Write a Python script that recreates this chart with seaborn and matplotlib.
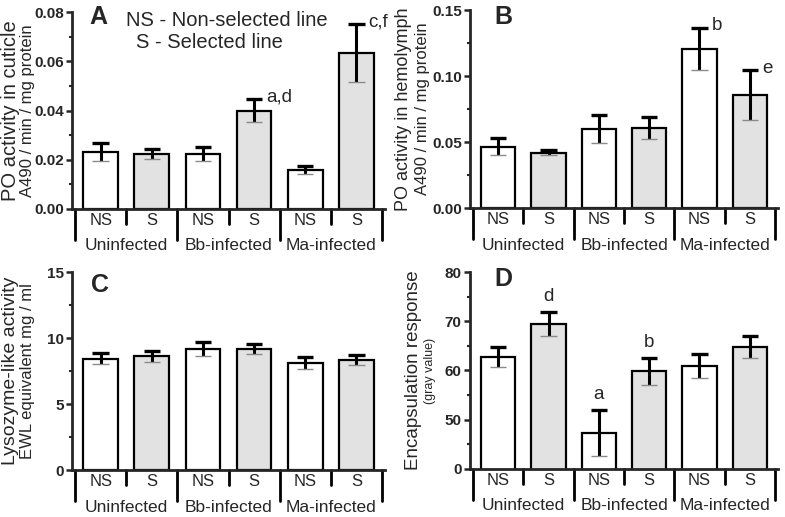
import numpy as np
import pandas as pd
import seaborn as sns
import matplotlib.pyplot as plt
from matplotlib.ticker import AutoMinorLocator, FixedLocator
from matplotlib.transforms import blended_transform_factory

# data, order: Uninf NS, Uninf S, Bb NS, Bb S, Ma NS, Ma S
groups = ["Uninfected", "Bb-infected", "Ma-infected"]
lines = ["NS", "S"]

po_cuticle = [0.0232, 0.0224, 0.0223, 0.0400, 0.0158, 0.0632]
po_cuticle_se = [0.0038, 0.0021, 0.0027, 0.0048, 0.0017, 0.0118]

po_hemo = [0.0465, 0.0420, 0.0598, 0.0606, 0.1204, 0.0854]
po_hemo_se = [0.0064, 0.0018, 0.0104, 0.0080, 0.0161, 0.0189]

lysozyme = [8.43, 8.61, 9.17, 9.19, 8.08, 8.33]
lysozyme_se = [0.42, 0.43, 0.54, 0.38, 0.45, 0.36]

encaps = [62.8, 69.5, 47.3, 59.8, 60.9, 64.7]
encaps_se = [2.0, 2.45, 4.75, 2.65, 2.5, 2.25]

letters_a = {3: "a,d", 5: "c,f"}
letters_b = {4: "b", 5: "e"}
letters_d = {1: "d", 2: "a", 3: "b"}

sns.set_style("ticks")
plt.rcParams['font.family'] = ['Liberation Sans', 'DejaVu Sans']

W, H = 785, 517
fig = plt.figure(figsize=(W / 100, H / 100), dpi=100)


def px_axes(x0, y0, x1, y1):
    return fig.add_axes([x0 / W, 1 - y1 / H, (x1 - x0) / W, (y1 - y0) / H])


def panel(ax, vals, se, ylim, yticks, ylabels, letter, lab1, lab2, fs1, fs2, lab_x):
    df = pd.DataFrame({
        "cond": [f"{g} {l}" for g in groups for l in lines],
        "line": [l for g in groups for l in lines],
        "value": vals,
    })
    sns.barplot(data=df, x="cond", y="value", hue="line",
                palette={"NS": "white", "S": "#e2e2e2"}, dodge=False,
                width=0.68, edgecolor="black", linewidth=1.6,
                errorbar=None, legend=False, ax=ax)
    xs = np.arange(len(vals))
    v = np.array(vals)
    e = np.array(se)
    ax.vlines(xs, v - e, v + e, color="black", lw=2.2, zorder=4)
    ax.hlines(v + e, xs - 0.16, xs + 0.16, color="black", lw=2.4, zorder=4)
    ax.hlines(v - e, xs - 0.16, xs + 0.16, color="#8a8a8a", lw=1.0, zorder=4)

    ax.set_xlim(-0.56, 5.56)
    ax.set_ylim(*ylim)
    ax.yaxis.set_major_locator(FixedLocator(yticks))
    ax.set_yticklabels(ylabels, fontweight="bold", fontsize=11)
    ax.yaxis.set_minor_locator(AutoMinorLocator(2))
    ax.tick_params(axis="y", which="major", length=4, width=1.8, pad=2)
    ax.tick_params(axis="y", which="minor", length=2.5, width=1.5)
    ax.set_xticks(xs)
    ax.set_xticklabels(lines * 3, fontsize=12)
    ax.tick_params(axis="x", length=0, pad=3)
    ax.set_xlabel("")
    ax.set_ylabel("")
    sns.despine(ax=ax)
    for s in ["left", "bottom"]:
        ax.spines[s].set_linewidth(2)

    # grouped x axis brackets
    tr = blended_transform_factory(ax.transData, ax.transAxes)
    hpx = ax.get_position().height * H
    for b in [-0.5, 1.5, 3.5, 5.5]:
        ax.plot([b, b], [0, -31 / hpx], color="black", lw=2, transform=tr, clip_on=False)
    for b in [0.5, 2.5, 4.5]:
        ax.plot([b, b], [0, -15 / hpx], color="black", lw=2, transform=tr, clip_on=False)
    for i, g in enumerate(groups):
        ax.text(2 * i + 0.5, -37 / hpx, g, transform=tr, ha="center", va="center", fontsize=12.5)

    ax.text(letter[1], letter[2], letter[0], transform=fig.transFigure,
            fontsize=18, fontweight="bold", ha="center", va="center")
    mid = 1 - (ax.get_position().y0 + ax.get_position().height / 2)
    fig.text(lab_x[0] / W, 1 - mid, lab1, rotation=90, ha="center", va="center", fontsize=fs1)
    fig.text(lab_x[1] / W, 1 - mid, lab2, rotation=90, ha="center", va="center", fontsize=fs2)
    return xs, v + e


# A
axA = px_axes(72, 12, 385, 209)
xs, tops = panel(axA, po_cuticle, po_cuticle_se, (0, 0.08), [0, 0.02, 0.04, 0.06, 0.08],
                 ["0.00", "0.02", "0.04", "0.06", "0.08"], ("A", 98 / W, 1 - 17 / H),
                 "PO activity in cuticle", "A490 / min / mg protein", 14.5, 12, (11, 28))
for i, t in letters_a.items():
    axA.annotate(t, (xs[i], tops[i]), xytext=(12, 2), textcoords="offset pixels",
                 ha="left", va="center", fontsize=13.5)
fig.text(227 / W, 1 - 21 / H, "NS - Non-selected line", ha="center", va="center", fontsize=14.5)
fig.text(209 / W, 1 - 43 / H, "S - Selected line", ha="center", va="center", fontsize=14.5)

# B
axB = px_axes(470, 10, 778, 208)
xs, tops = panel(axB, po_hemo, po_hemo_se, (0, 0.15), [0, 0.05, 0.10, 0.15],
                 ["0.00", "0.05", "0.10", "0.15"], ("B", 503 / W, 1 - 17 / H),
                 "PO activity in hemolymph", "A490 / min / mg protein", 13, 12, (404, 422))
for i, t in letters_b.items():
    axB.annotate(t, (xs[i], tops[i]), xytext=(12, 2), textcoords="offset pixels",
                 ha="left", va="center", fontsize=13.5)

# C
axC = px_axes(72, 272, 385, 470)
panel(axC, lysozyme, lysozyme_se, (0, 15), [0, 5, 10, 15], ["0", "5", "10", "15"],
      ("C", 100 / W, 1 - 285 / H), "Lysozyme-like activity", "EWL equivalent mg / ml",
      14, 12, (11, 28))

# D (broken axis: bottom tick stands for 0)
axD = px_axes(470, 272, 778, 469)
xs, tops = panel(axD, encaps, encaps_se, (40, 80), [40, 50, 60, 70, 80],
                 ["0", "50", "60", "70", "80"], ("D", 503 / W, 1 - 279 / H),
                 "Encapsulation response", "(gray value)", 13.5, 9, (414, 430))
for i, t in letters_d.items():
    axD.annotate(t, (xs[i], tops[i]), xytext=(0, 7), textcoords="offset pixels",
                 ha="center", va="bottom", fontsize=13.5)

fig.savefig("out.png", dpi=100)
